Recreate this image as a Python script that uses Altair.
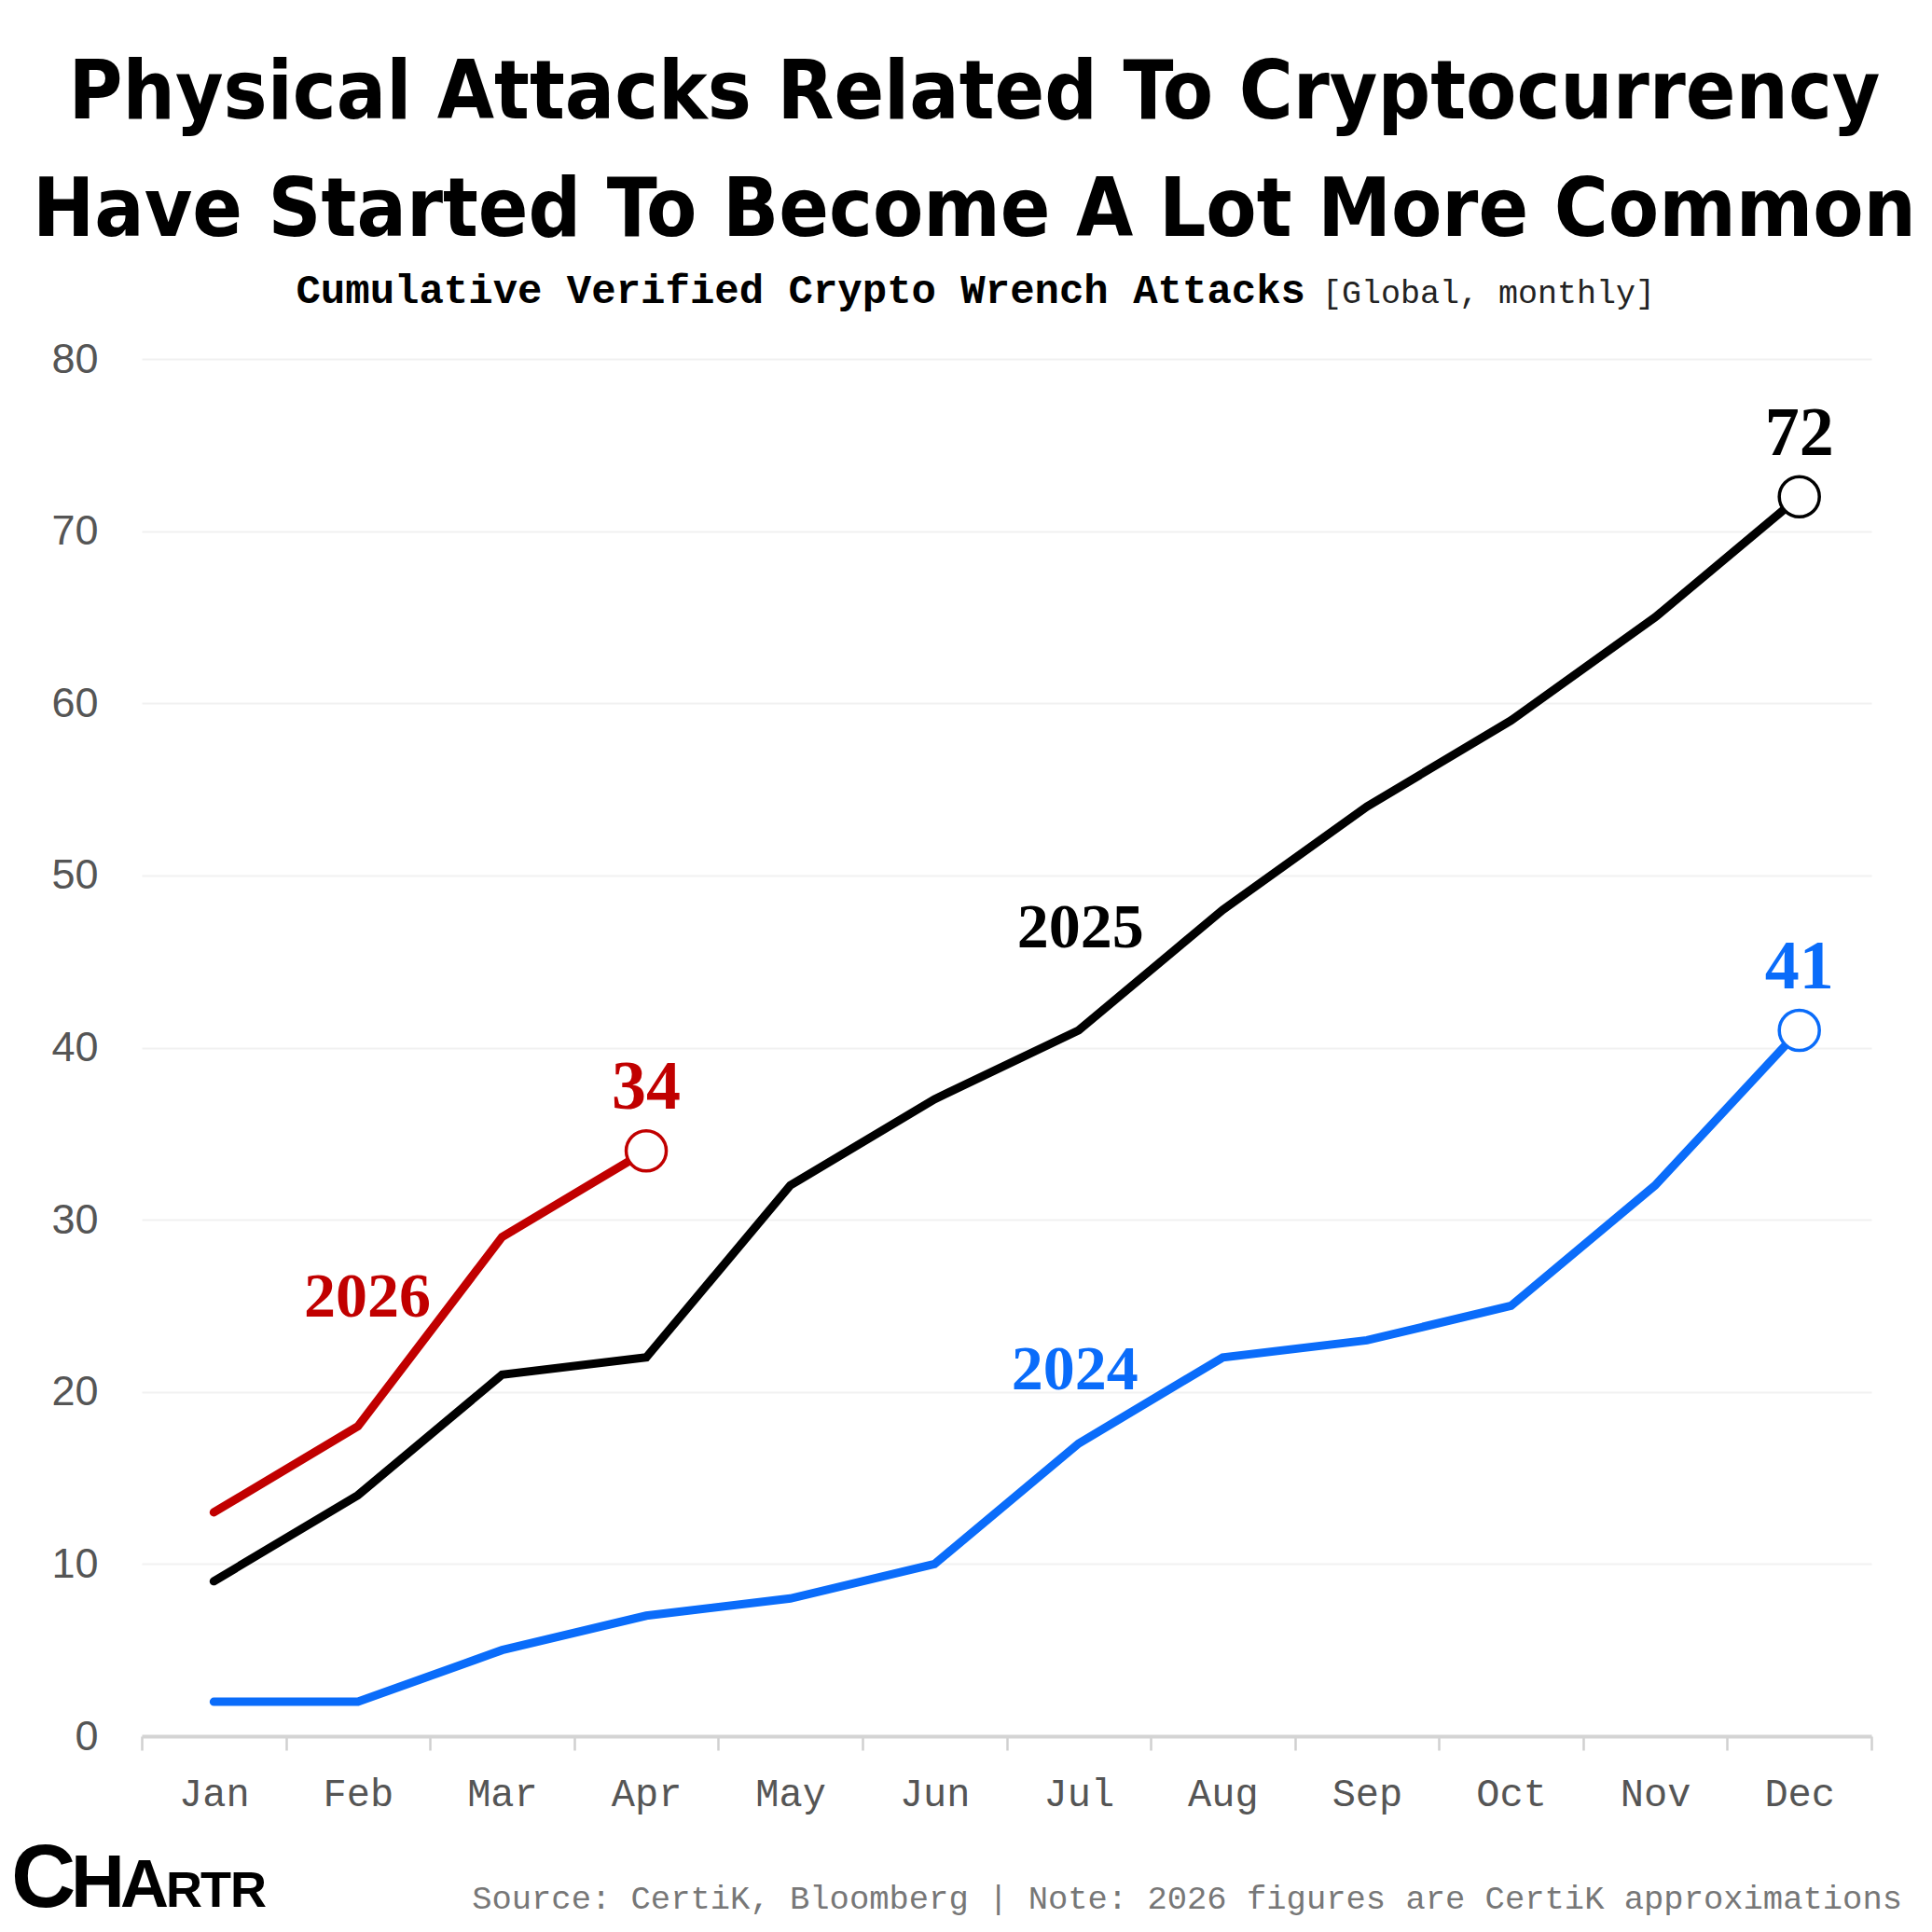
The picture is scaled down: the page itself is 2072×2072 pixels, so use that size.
import altair as alt
import pandas as pd

months = ["Jan", "Feb", "Mar", "Apr", "May", "Jun",
          "Jul", "Aug", "Sep", "Oct", "Nov", "Dec"]
years = ["2024", "2025", "2026"]
attacks_2024 = [2, 2, 5, 7, 8, 10, 17, 22, 23, 25, 32, 41]
attacks_2025 = [9, 14, 21, 22, 32, 37, 41, 48, 54, 59, 65, 72]
attacks_2026 = [13, 18, 29, 34]
colors = ["#0a6cfa", "#000000", "#c10000"]

title_lines = ["Physical Attacks Related To Cryptocurrency",
               "Have Started To Become A Lot More Common"]
subtitle_bold = "Cumulative Verified Crypto Wrench Attacks"
subtitle_light = "[Global, monthly]"
source = "Source: CertiK, Bloomberg | Note: 2026 figures are CertiK approximations"
logo_letters = ["C", "H", "A", "R", "T", "R"]

rows = []
for year, values in zip(years, [attacks_2024, attacks_2025, attacks_2026]):
    for m, v in zip(months, values):
        rows.append({"year": year, "month": m, "value": v})
df = pd.DataFrame(rows)
ends = df.groupby("year").tail(1)

W, H = 1855, 1477
TITLE_FONT = "'DejaVu Sans Condensed', 'Roboto Condensed', 'Liberation Sans Narrow', Roboto, sans-serif"
MONO = "Liberation Mono"
SERIF = "Liberation Serif"

x = alt.X("month:N", bandPosition=0.5,
          scale=alt.Scale(type="band", domain=months, paddingInner=0, paddingOuter=0),
          axis=alt.Axis(title=None, tickBand="extent", tickSize=15, tickWidth=2.5,
                        tickColor="#d0d0d0", domainColor="#d4d4d4", domainWidth=4,
                        labelFont=MONO, labelFontSize=42, labelColor="#555555",
                        labelPadding=26, labelAngle=0, grid=False))
y = alt.Y("value:Q",
          scale=alt.Scale(domain=[0, 80], nice=False),
          axis=alt.Axis(title=None, values=list(range(0, 81, 10)), ticks=False,
                        domain=False, gridColor="#f1f1f1", gridWidth=2,
                        labelFont="Liberation Sans", labelFontSize=45,
                        labelColor="#555555", labelPadding=47))
color = alt.Color("year:N", scale=alt.Scale(domain=years, range=colors), legend=None)

lines = alt.Chart(df).mark_line(strokeWidth=9, strokeCap="round").encode(
    x=x, y=y, color=color)

dots = alt.Chart(ends).mark_point(
    shape="circle", filled=False, fill="white", fillOpacity=1, opacity=1,
    size=1850, strokeWidth=3.5
).encode(x=x, y=y, color=color)

end_labels = alt.Chart(ends).mark_text(
    font=SERIF, fontWeight="bold", fontSize=74, baseline="middle", dy=-67
).encode(x=x, y=y, color=color, text="value:Q")


def name_label(year, month, dx, dy):
    sub = df[(df.year == year) & (df.month == month)]
    return alt.Chart(sub).mark_text(
        font=SERIF, fontWeight="bold", fontSize=68, baseline="middle", dx=dx, dy=dy
    ).encode(x=x, y=y, color=color, text="year:N")


names = (name_label("2024", "Jul", -4, -78)
         + name_label("2025", "Jul", 2, -109)
         + name_label("2026", "Feb", 10, -138))

txt = alt.Chart(pd.DataFrame({"t": [0]}))

title = txt.mark_text(
    text=title_lines, font=TITLE_FONT, fontWeight="bold", fontSize=88,
    lineHeight=126, align="center", baseline="alphabetic", color="black"
).encode(x=alt.value(893), y=alt.value(-258))

sub_bold = txt.mark_text(
    text=subtitle_bold, font=MONO, fontWeight="bold", fontSize=44,
    align="right", baseline="alphabetic", color="black"
).encode(x=alt.value(1248), y=alt.value(-60))

sub_light = txt.mark_text(
    text=subtitle_light, font=MONO, fontSize=35,
    align="left", baseline="alphabetic", color="#222222"
).encode(x=alt.value(1266), y=alt.value(-60))

source_txt = txt.mark_text(
    text=source, font=MONO, fontSize=35.5, align="right",
    baseline="alphabetic", color="#777777"
).encode(x=alt.value(1888), y=alt.value(1662))

# logo: letters shrink from left to right
logo_x = [-140, -76, -23, 26, 63, 95]
logo_size = [96, 80, 72, 54, 54, 54]
logo = alt.layer(*[
    txt.mark_text(text=ch, font="Liberation Sans", fontWeight="bold", fontSize=s,
                  align="left", baseline="alphabetic", color="black"
                  ).encode(x=alt.value(lx), y=alt.value(1660))
    for ch, lx, s in zip(logo_letters, logo_x, logo_size)
])

chart = alt.layer(
    lines, dots, end_labels, names,
    title, sub_bold, sub_light, source_txt, logo
).properties(
    width=W, height=H,
    autosize=alt.AutoSizeParams(type="none"),
    padding={"left": 144, "top": 377, "right": 57, "bottom": 208},
    background="white"
).configure_view(stroke=None)

chart.save("out.html", embed_options={"renderer": "svg", "actions": False})
